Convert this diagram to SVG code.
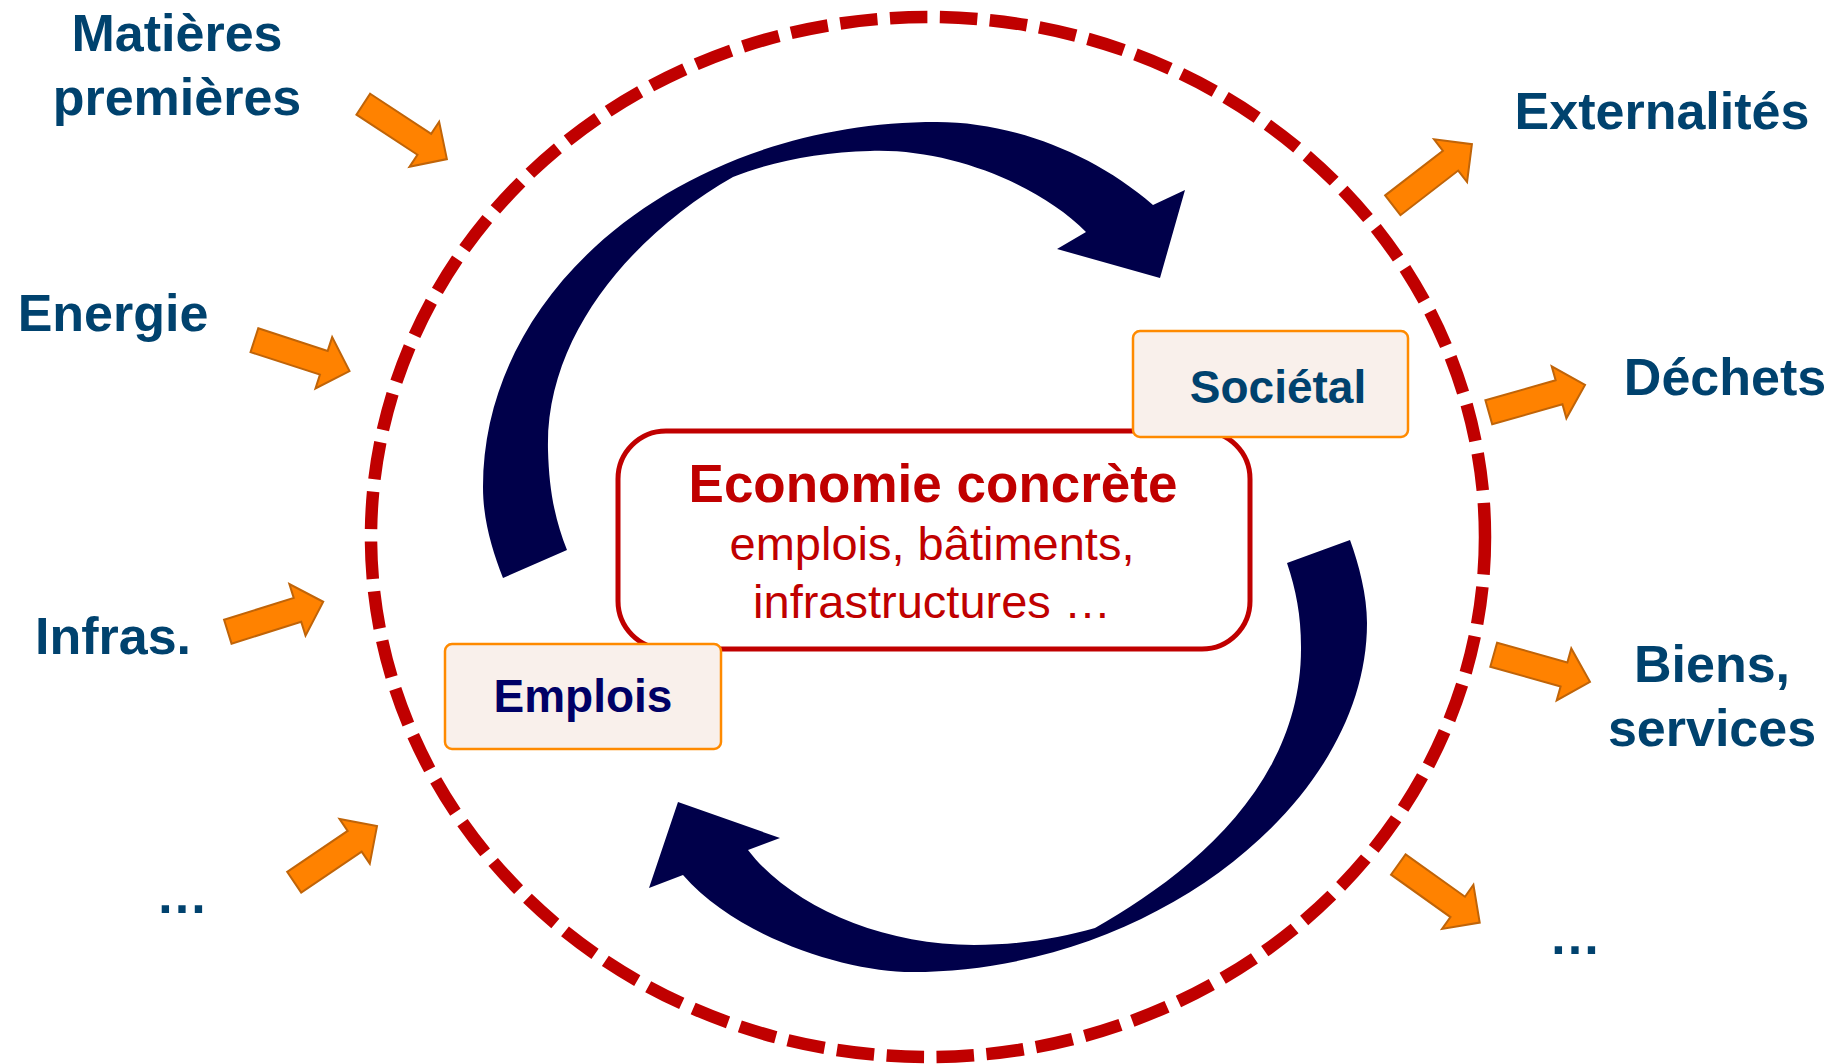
<svg xmlns="http://www.w3.org/2000/svg" xmlns:xlink="http://www.w3.org/1999/xlink" width="1840" height="1064" viewBox="0 0 1840 1064">
  <style>
    .lbl { font-family: "Liberation Sans", Arial, sans-serif; font-weight: bold; font-size: 52px; fill: #00426E; text-anchor: middle; }
    .tag { fill: #F9F0EB; stroke: #FF8A00; stroke-width: 2.5; }
    .tagtxt { font-family: "Liberation Sans", Arial, sans-serif; font-weight: bold; font-size: 46px; text-anchor: middle; }
    .eco { font-family: "Liberation Sans", Arial, sans-serif; fill: #C00000; text-anchor: middle; }
    .oarrow { fill: #FF8200; stroke: #C06408; stroke-width: 2; stroke-linejoin: miter; }
    .cycle { fill: #00004A; }
  </style>
  <defs>
    <polygon id="oa" points="0,-12.5 73,-12.5 73,-27 100,0 73,27 73,12.5 0,12.5"/>
  </defs>
  <rect width="1840" height="1064" fill="#FFFFFF"/>

  <g id="boundary">
    <ellipse cx="928" cy="537" rx="557" ry="520" fill="none" stroke="#C00000" stroke-width="12.5" stroke-dasharray="37.5 12.5"/>
  </g>

  <g id="connectors">
    <path class="cycle" d="M 503,578 C 492,550 483,520 483,487 C 483,285.4 686.3,122 937,122 C 1010,122 1092,152 1153,205 L 1185,190 L 1160,278 L 1057,249 L 1086,232 C 1040,185 950,148 870,151 C 820,152 770,162 733,177 C 640,230 545,330 548,450 C 549,490 555,520 567,550 Z"/>
    <path class="cycle" d="M 1350,540 C 1359,565 1367,595 1367,623 C 1367,804.5 1148.6,972 912,972 C 850,972 740,940 683,875 L 649,888 L 678,802 L 780,838 L 748,850 C 790,905 880,945 974,945 C 1020,945 1060,938 1095,928 C 1180,880 1302,790 1301,647 C 1301,615 1296,590 1287,563 Z"/>
    <use xlink:href="#oa" href="#oa" class="oarrow" transform="translate(363.3,104.2) rotate(33.3)"/>
    <use xlink:href="#oa" href="#oa" class="oarrow" transform="translate(254.4,340.2) rotate(18)"/>
    <use xlink:href="#oa" href="#oa" class="oarrow" transform="translate(227.8,631.7) rotate(-17.4)"/>
    <use xlink:href="#oa" href="#oa" class="oarrow" transform="translate(294.2,882.2) rotate(-34.1)"/>
    <use xlink:href="#oa" href="#oa" class="oarrow" transform="translate(1392.8,205.3) rotate(-37.7)"/>
    <use xlink:href="#oa" href="#oa" class="oarrow" transform="translate(1488.8,412.2) rotate(-15.8)"/>
    <use xlink:href="#oa" href="#oa" class="oarrow" transform="translate(1493.7,654.7) rotate(15.7)"/>
    <use xlink:href="#oa" href="#oa" class="oarrow" transform="translate(1398.3,864.5) rotate(35.5)"/>
  </g>

  <g id="economie">
    <rect x="618" y="431" width="632" height="218" rx="48" ry="48" fill="#FFFFFF" stroke="#C00000" stroke-width="5"/>
    <text class="eco" x="933" y="502" font-size="53" font-weight="bold">Economie concrète</text>
    <text class="eco" x="932" y="560" font-size="47">emplois, bâtiments,</text>
    <text class="eco" x="932" y="618" font-size="47">infrastructures …</text>
  </g>

  <g id="societal">
    <rect class="tag" x="1133" y="331" width="275" height="106" rx="7" ry="7"/>
    <text class="tagtxt" x="1278" y="403" fill="#00426E">Sociétal</text>
  </g>

  <g id="emplois">
    <rect class="tag" x="445" y="644" width="276" height="105" rx="7" ry="7"/>
    <text class="tagtxt" x="583" y="712" fill="#000066">Emplois</text>
  </g>

  <g id="matieres">
    <text class="lbl" x="177" y="51">Matières</text>
    <text class="lbl" x="177" y="115">premières</text>
  </g>
  <g id="energie">
    <text class="lbl" x="113" y="331">Energie</text>
  </g>
  <g id="infras">
    <text class="lbl" x="113" y="654">Infras.</text>
  </g>
  <g id="autres-entrees">
    <text class="lbl" x="182" y="913">…</text>
  </g>
  <g id="externalites">
    <text class="lbl" x="1662" y="129">Externalités</text>
  </g>
  <g id="dechets">
    <text class="lbl" x="1725" y="395">Déchets</text>
  </g>
  <g id="biens">
    <text class="lbl" x="1712" y="682">Biens,</text>
    <text class="lbl" x="1712" y="746">services</text>
  </g>
  <g id="autres-sorties">
    <text class="lbl" x="1575" y="954">…</text>
  </g>
</svg>
